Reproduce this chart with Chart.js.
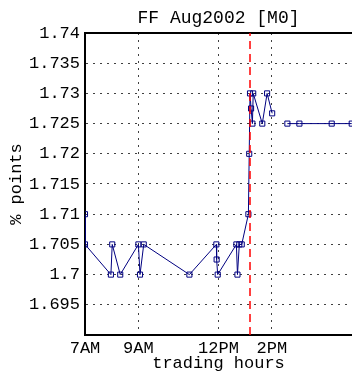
<!DOCTYPE html>
<html>
<head>
<meta charset="utf-8">
<script src="https://cdn.jsdelivr.net/npm/chart.js@4.4.1/dist/chart.umd.min.js"></script>
<style>
  html, body { margin: 0; padding: 0; background: #fff; overflow: hidden; }
  canvas { display: block; }
</style>
</head>
<body>
<canvas id="ffChart" width="352" height="374"></canvas>
<script>
// intraday quotes: hour of day (7 = 7AM) and rate in % points, null = no trades
const tradeHours = [7.00, 7.00, 7.97, 8.02, 8.32, 9.00, 9.06, 9.20, 10.91, 11.92, 11.93, 11.97,
    12.67, 12.71, 12.78, 12.87, 13.12, 13.15, 13.18, 13.22, 13.27, 13.30, 13.64, 13.82, 14.01,
    14.30, 14.58, 15.03, 16.24, 16.99];
const ffRates = [1.710, 1.705, 1.700, 1.705, 1.700, 1.705, 1.700, 1.705, 1.700, 1.705, 1.7025, 1.700,
    1.705, 1.700, 1.705, 1.705, 1.710, 1.720, 1.730, 1.7275, 1.725, 1.730, 1.725, 1.730, 1.7267,
    null, 1.725, 1.725, 1.725, 1.725];
const eventHour = 13.18; // red dashed marker
const xTickHours = [7, 9, 12, 14];
const xTickLabels = ['7AM', '9AM', '12PM', '2PM'];
const yTickValues = [1.69, 1.695, 1.70, 1.705, 1.71, 1.715, 1.72, 1.725, 1.73, 1.735, 1.74];
const yTickLabels = ['', '1.695', '1.7', '1.705', '1.71', '1.715', '1.72', '1.725', '1.73', '1.735', '1.74'];

const monoFont = 'Liberation Mono';

function noSidePadding(scale) {
    scale.paddingLeft = 0;
    scale.paddingRight = 0;
}

document.addEventListener('DOMContentLoaded', function() {
    const ctx = document.getElementById('ffChart').getContext('2d');

    const quotes = tradeHours.map((h, i) => ({ x: h, y: ffRates[i] }));
    const eventLine = [
        { x: eventHour, y: yTickValues[0] },
        { x: eventHour, y: yTickValues[yTickValues.length - 1] }
    ];

    new Chart(ctx, {
        type: 'line',
        data: {
            datasets: [{
                data: eventLine,
                borderColor: '#ff0000',
                borderWidth: 1.5,
                borderDash: [8, 5],
                pointRadius: 0
            }, {
                data: quotes,
                borderColor: '#000080',
                borderWidth: 1,
                spanGaps: false,
                pointStyle: 'rect',
                pointRadius: 3.6,
                pointBorderWidth: 1,
                pointBorderColor: '#000080',
                pointBackgroundColor: 'rgba(0,0,0,0)'
            }]
        },
        options: {
            responsive: false,
            animation: false,
            layout: { padding: 0, autoPadding: false },
            plugins: {
                legend: { display: false },
                tooltip: { enabled: false }
            },
            scales: {
                x: {
                    type: 'linear',
                    position: 'bottom',
                    min: 7,
                    max: 17,
                    afterBuildTicks: function(scale) {
                        scale.ticks = xTickHours.map(v => ({ value: v }));
                    },
                    afterFit: function(scale) {
                        scale.height = 39;
                        noSidePadding(scale);
                    },
                    ticks: {
                        autoSkip: false,
                        maxRotation: 0,
                        padding: 3,
                        color: '#000',
                        font: { family: monoFont, size: 17 },
                        callback: function(value) {
                            return xTickLabels[xTickHours.indexOf(value)];
                        }
                    },
                    grid: { drawTicks: false, color: 'rgba(0,0,0,0.75)', lineWidth: 1 },
                    border: { display: true, color: '#000', width: 2, dash: [2, 5] },
                    title: {
                        display: true,
                        text: 'trading hours',
                        color: '#000',
                        font: { family: monoFont, size: 17 },
                        padding: { top: 0, bottom: 0 }
                    }
                },
                x2: {
                    type: 'linear',
                    position: 'top',
                    min: 7,
                    max: 17,
                    afterFit: function(scale) {
                        scale.height = 33;
                        noSidePadding(scale);
                    },
                    ticks: { display: false },
                    grid: { display: false, drawTicks: false },
                    border: { display: true, color: '#000', width: 2 },
                    title: {
                        display: true,
                        text: 'FF Aug2002 [M0]',
                        color: '#000',
                        font: { family: monoFont, size: 18 },
                        padding: { top: 7, bottom: 0 }
                    }
                },
                y: {
                    type: 'linear',
                    position: 'left',
                    min: 1.69,
                    max: 1.74,
                    afterBuildTicks: function(scale) {
                        scale.ticks = yTickValues.map(v => ({ value: v }));
                    },
                    afterFit: function(scale) { scale.width = 85; },
                    ticks: {
                        autoSkip: false,
                        padding: 5,
                        color: '#000',
                        font: { family: monoFont, size: 17 },
                        callback: function(value, index) {
                            return yTickLabels[index];
                        }
                    },
                    grid: { drawTicks: false, color: 'rgba(0,0,0,0.75)', lineWidth: 1 },
                    border: { display: true, color: '#000', width: 2, dash: [2, 5] },
                    title: {
                        display: true,
                        text: '% points',
                        color: '#000',
                        font: { family: monoFont, size: 17 },
                        padding: { top: 6, bottom: 0 }
                    }
                }
            }
        }
    });
});
</script>
</body>
</html>
